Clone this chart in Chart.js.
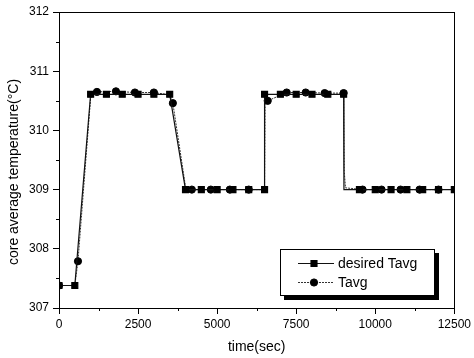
<!DOCTYPE html>
<html>
<head>
<meta charset="utf-8">
<script src="https://cdn.jsdelivr.net/npm/chart.js@4.4.0/dist/chart.umd.min.js"></script>
<style>
  html, body { margin: 0; padding: 0; background: #fff; }
  #wrap { width: 474px; height: 358px; }
</style>
</head>
<body>
<div id="wrap"><canvas id="chart" width="474" height="358"></canvas></div>
<script>
// desired core average temperature (square markers every 500 s)
const desiredTime = [0, 500, 1000, 1500, 2000, 2500, 3000, 3500, 4000, 4500, 5000, 5500, 6000, 6500,
  6500, 7000, 7500, 8000, 8500, 9000, 9010, 9500, 10000, 10500, 11000, 11500, 12000, 12500];
const desiredTavg = [307.38, 307.38, 310.61, 310.61, 310.61, 310.61, 310.61, 310.61, 309.0, 309.0, 309.0, 309.0, 309.0, 309.0,
  310.61, 310.61, 310.61, 310.61, 310.61, 310.61, 309.0, 309.0, 309.0, 309.0, 309.0, 309.0, 309.0, 309.0];

// computed core average temperature (circle markers every 600 s)
const tavgTime = [0, 500, 600, 1000, 1200, 1800, 2400, 3000, 3500, 3600, 4000, 4200, 4800, 5400, 6000, 6500,
  6520, 6600, 7200, 7800, 8400, 9000, 9020, 9060, 9600, 10200, 10800, 11400, 12000];
const tavgValue = [307.38, 307.38, 307.79, 310.55, 310.65, 310.66, 310.64, 310.64, 310.6, 310.46, 309.05, 309.0, 309.0, 309.0, 309.0, 309.0,
  310.6, 310.5, 310.64, 310.64, 310.63, 310.63, 309.3, 309.03, 309.0, 309.0, 309.0, 309.0, 309.0];

const xTicks = [0, 2500, 5000, 7500, 10000, 12500];
const yTicks = [307, 308, 309, 310, 311, 312];
const yTitle = 'core average temperature(°C)';

const FONT = "'Liberation Sans', Arial, Helvetica, sans-serif";

const toPoints = (xs, ys) => xs.map((x, i) => ({ x: x, y: ys[i] }));

// frame, minor ticks, y title and the boxed legend inside the plot
const decorations = {
  id: 'decorations',
  afterDraw(chart) {
    const { ctx, chartArea: a, scales: { x, y } } = chart;
    ctx.save();
    ctx.strokeStyle = '#000';
    ctx.lineWidth = 1;
    ctx.strokeRect(Math.round(a.left) + 0.5, Math.round(a.top) + 0.5,
      Math.round(a.right - a.left), Math.round(a.bottom - a.top));

    ctx.beginPath();
    for (let i = 0; i < xTicks.length - 1; i++) {
      const px = Math.round(x.getPixelForValue((xTicks[i] + xTicks[i + 1]) / 2)) + 0.5;
      ctx.moveTo(px, a.bottom);
      ctx.lineTo(px, a.bottom + 3);
    }
    for (let i = 0; i < yTicks.length - 1; i++) {
      const py = Math.round(y.getPixelForValue((yTicks[i] + yTicks[i + 1]) / 2)) + 0.5;
      ctx.moveTo(a.left, py);
      ctx.lineTo(a.left - 3, py);
    }
    ctx.stroke();

    // rotated y axis title, sitting a little below the plot's middle
    ctx.save();
    ctx.translate(14, (a.top + a.bottom) / 2 + 12);
    ctx.rotate(-Math.PI / 2);
    ctx.font = '14px ' + FONT;
    ctx.fillStyle = '#000';
    ctx.textAlign = 'center';
    ctx.textBaseline = 'middle';
    ctx.fillText(yTitle, 0, 0);
    ctx.restore();

    // legend box with drop shadow
    const bw = 155, bh = 47;
    const bx = Math.round(a.right - 19 - bw), by = Math.round(a.bottom - 12 - bh);
    ctx.fillStyle = '#000';
    ctx.fillRect(bx + 4, by + 4, bw, bh);
    ctx.fillStyle = '#fff';
    ctx.fillRect(bx, by, bw, bh);
    ctx.strokeRect(bx + 0.5, by + 0.5, bw - 1, bh - 1);

    ctx.font = '14px ' + FONT;
    ctx.textBaseline = 'middle';
    chart.data.datasets.forEach((ds, i) => {
      const ry = by + 14.5 + i * 19;
      ctx.beginPath();
      ctx.setLineDash(ds.borderDash || []);
      ctx.strokeStyle = ds.borderColor;
      ctx.lineWidth = ds.borderWidth;
      ctx.moveTo(bx + 18, ry);
      ctx.lineTo(bx + 54, ry);
      ctx.stroke();
      ctx.setLineDash([]);
      ctx.fillStyle = '#000';
      ctx.strokeStyle = '#000';
      Chart.helpers.drawPoint(ctx, {
        pointStyle: ds.pointStyle, radius: ds.legendRadius, borderWidth: 1
      }, bx + 34, ry);
      ctx.fillText(ds.label, bx + 58, ry + 1);
    });
    ctx.restore();
  }
};

new Chart(document.getElementById('chart'), {
  type: 'line',
  data: {
    datasets: [
      {
        label: 'desired Tavg',
        data: toPoints(desiredTime, desiredTavg),
        borderColor: '#111',
        borderWidth: 1.2,
        backgroundColor: '#000',
        pointBackgroundColor: '#000',
        pointBorderColor: '#000',
        pointStyle: 'rect',
        legendRadius: 4.2,
        pointRadius: c => (c.raw && c.raw.x % 500 === 0 ? 4.2 : 0),
        tension: 0
      },
      {
        label: 'Tavg',
        data: toPoints(tavgTime, tavgValue),
        borderColor: '#333',
        borderWidth: 1,
        borderDash: [2, 1],
        backgroundColor: '#000',
        pointBackgroundColor: '#000',
        pointBorderColor: '#000',
        pointStyle: 'circle',
        legendRadius: 3.6,
        pointRadius: c => (c.raw && c.raw.x % 600 === 0 ? 3.6 : 0),
        tension: 0
      }
    ]
  },
  options: {
    responsive: false,
    animation: false,
    layout: { padding: { top: 12, right: 17, left: 0, bottom: 0 } },
    plugins: { legend: { display: false }, tooltip: { enabled: false } },
    scales: {
      x: {
        type: 'linear',
        min: 0,
        max: 12500,
        afterBuildTicks: s => { s.ticks = xTicks.map(v => ({ value: v })); },
        afterFit: s => { s.height = 50; },
        ticks: {
          callback: v => String(v),
          maxRotation: 0,
          autoSkip: false,
          padding: 3,
          color: '#000',
          font: { family: FONT, size: 12 }
        },
        grid: { drawOnChartArea: false, tickLength: 6, tickColor: '#000', color: '#000' },
        border: { color: '#000', width: 1 },
        title: {
          display: true,
          text: 'time(sec)',
          color: '#000',
          font: { family: FONT, size: 14 },
          padding: { top: 0, bottom: 2 }
        }
      },
      y: {
        min: 307,
        max: 312,
        afterBuildTicks: s => { s.ticks = yTicks.map(v => ({ value: v })); },
        afterFit: s => { s.width = 59; },
        ticks: {
          callback: v => String(v),
          padding: 4,
          color: '#000',
          font: { family: FONT, size: 12 }
        },
        grid: { drawOnChartArea: false, tickLength: 6, tickColor: '#000', color: '#000' },
        border: { color: '#000', width: 1 }
      }
    }
  },
  plugins: [decorations]
});
</script>
</body>
</html>
